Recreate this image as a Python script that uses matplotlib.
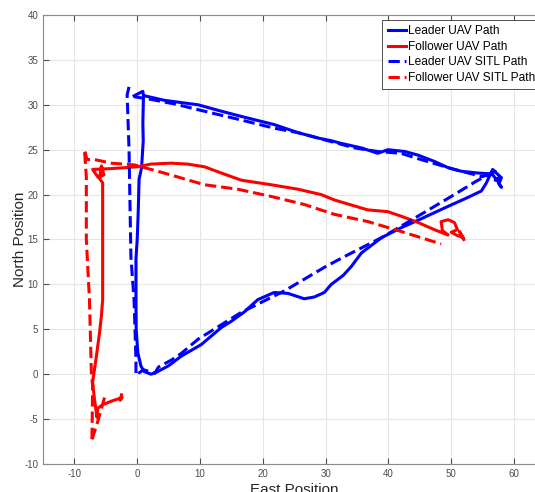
import matplotlib
matplotlib.use("Agg")
import matplotlib.pyplot as plt

# leader UAV (flight log)
leader_x = [-0.5, 0.9, 1.0, 0.9, 0.96, 0.7, 0.3, 0.16, 0.0, -0.2, -0.2, -0.16, 0.1, 0.6, 1.1,
            2.2, 3.0, 4.9, 7.0, 10.2, 13.4, 15.0, 17.0, 19.2, 21.8, 24.0, 26.6, 28.2, 29.8, 30.9,
            32.8, 34.1, 35.7, 38.9, 42.0, 45.2, 48.9, 52.7, 54.8, 55.6, 56.6, 57.8, 57.0, 58.0,
            57.6, 58.0, 57.4, 56.5, 54.3, 51.6, 49.5, 47.3, 44.7, 42.6, 39.9, 38.3, 35.7, 32.5,
            30.9, 28.8, 25.6, 21.8, 16.6, 12.8, 9.7, 4.3, 1.2]
leader_y = [31.0, 31.5, 31.0, 28.0, 26.0, 23.0, 21.7, 18.0, 15.0, 12.8, 8.0, 5.0, 2.4, 0.9, 0.3,
            0.0, 0.2, 0.9, 2.0, 3.3, 5.2, 5.9, 6.9, 8.3, 9.1, 9.0, 8.4, 8.6, 9.1, 10.0,
            11.0, 12.0, 13.5, 15.2, 16.3, 17.3, 18.5, 19.7, 20.4, 21.3, 22.8, 22.0, 21.6, 21.9,
            21.2, 20.8, 21.5, 22.3, 22.4, 22.6, 23.0, 23.7, 24.4, 24.8, 25.0, 24.6, 25.2, 25.7,
            26.0, 26.3, 26.9, 27.8, 28.7, 29.4, 30.0, 30.5, 31.0]

# follower UAV (flight log)
follower_x = [-2.5, -2.7, -2.4, -4.1, -5.5, -6.3, -6.4, -6.8, -7.1, -6.5, -6.0, -5.7, -5.5, -5.5,
              -5.5, -5.5, -6.0, -5.7, -5.3, -6.2, -7.1, -4.0, 0.1, 2.2, 5.4, 8.0, 10.7, 13.4,
              16.6, 21.3, 25.6, 29.3, 31.4, 36.7, 39.9, 42.0, 44.7, 47.3, 49.5, 48.6, 48.4,
              49.5, 50.5, 51.0, 50.0, 50.8, 51.9, 51.3, 52.0]
follower_y = [-2.3, -2.9, -2.6, -3.0, -3.4, -3.8, -4.8, -2.8, -0.9, 2.0, 4.6, 6.5, 8.3, 12.8,
              17.0, 21.3, 21.8, 23.2, 22.2, 21.9, 22.8, 22.9, 23.1, 23.4, 23.5, 23.4, 23.1, 22.4,
              21.6, 21.1, 20.6, 20.0, 19.4, 18.3, 18.1, 17.6, 16.9, 16.1, 15.5, 16.0, 17.0,
              17.2, 16.9, 16.1, 15.8, 15.5, 15.2, 15.9, 15.0]

# leader UAV (SITL)
leader_sitl_x = [-1.3, -1.6, -1.3, -1.0, -0.5, -0.2, -0.2, 1.0, 2.8, 3.4, 5.5, 7.0, 9.7, 16.6,
                 23.5, 29.8, 33.0, 38.9, 45.2, 50.5, 54.0, 57.0, 55.0, 50.5, 45.2, 42.0, 38.3,
                 34.6, 30.9, 25.6, 21.8, 16.6, 11.8, 5.9, 2.2, -0.5]
leader_sitl_y = [32.0, 31.1, 25.0, 13.0, 8.3, 1.7, -0.1, 0.5, 0.1, 0.8, 1.6, 2.3, 3.9, 6.9,
                 9.3, 11.9, 13.1, 15.2, 17.8, 20.0, 21.5, 22.6, 22.0, 22.8, 23.9, 24.6, 24.8,
                 25.2, 25.9, 26.9, 27.4, 28.3, 29.1, 30.1, 30.6, 30.9]

# follower UAV (SITL)
follower_sitl_x = [-5.2, -6.3, -7.3, -7.2, -7.1, -7.3, -7.6, -8.1, -8.1, -8.4, -8.0, -6.8, -4.1,
                   -0.4, 4.3, 10.7, 16.0, 21.3, 26.6, 31.4, 36.7, 42.0, 48.4]
follower_sitl_y = [-2.6, -5.3, -7.5, -7.3, -1.3, 0.2, 8.3, 15.0, 22.0, 25.0, 23.9, 23.9, 23.5,
                   23.3, 22.4, 21.1, 20.6, 19.8, 18.9, 17.8, 17.0, 15.9, 14.5]

plt.rcParams['font.family'] = ['Liberation Sans', 'DejaVu Sans']
plt.rcParams['axes.unicode_minus'] = False

fig = plt.figure(figsize=(5.35, 4.92), dpi=100)
# the original screenshot is cut off at the right, so the axes run past the figure edge
ax = fig.add_axes([43 / 535, 28 / 492, 502.4 / 535, 449 / 492])

lw = 2.2
ax.plot(leader_x, leader_y, color='#0000ff', lw=lw, label='Leader UAV Path')
ax.plot(follower_x, follower_y, color='#ff0000', lw=lw, label='Follower UAV Path')
ax.plot(leader_sitl_x, leader_sitl_y, color='#0000ff', lw=lw, ls='--', label='Leader UAV SITL Path')
ax.plot(follower_sitl_x, follower_sitl_y, color='#ff0000', lw=lw, ls='--', label='Follower UAV SITL Path')

ax.set_xlim(-15, 65)
ax.set_ylim(-10, 40)
ax.set_xticks(range(-10, 61, 10))
ax.set_yticks(range(-10, 41, 5))
ax.grid(True, color='#e6e6e6', lw=0.8)
ax.set_axisbelow(True)
ax.tick_params(direction='in', top=True, right=True, labelsize=7, colors='#4d4d4d', length=4, pad=3.5)
for s in ax.spines.values():
    s.set_color('#8a8a8a')

ax.set_xlabel('East Position', fontsize=11, color='#262626', labelpad=3)
ax.set_ylabel('North Position', fontsize=11, color='#262626', labelpad=-2)

leg = ax.legend(loc='upper right', fontsize=8.6, handlelength=1.5, handletextpad=0.2,
                labelspacing=0.3, borderpad=0.45, borderaxespad=0.4, fancybox=False,
                framealpha=1, edgecolor='#333333')
leg.get_frame().set_linewidth(0.6)

fig.savefig('out.png', dpi=100)
